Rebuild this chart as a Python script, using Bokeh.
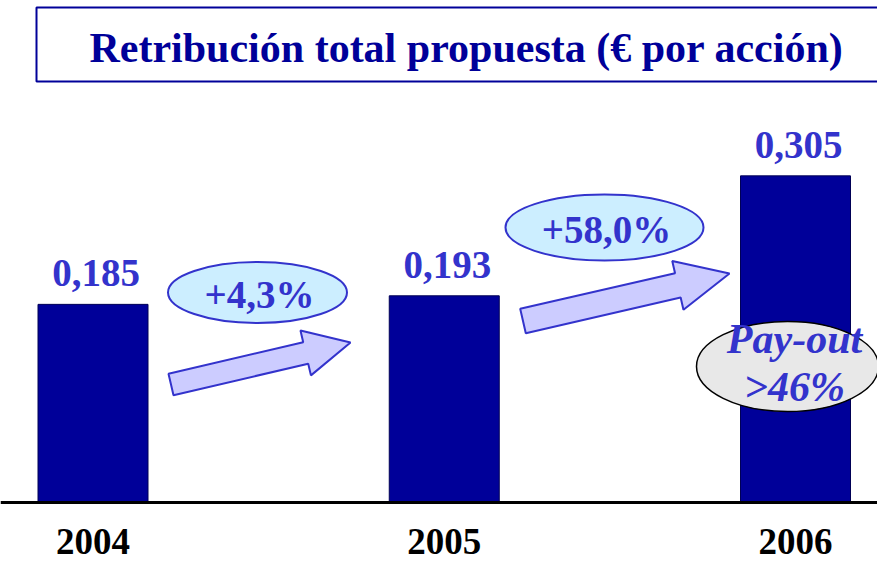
import math
from bokeh.plotting import figure
from bokeh.models import Range1d
from bokeh.core.properties import value
from bokeh.embed import file_html
from bokeh.resources import INLINE

# ---- data ----
years = [2004, 2005, 2006]
year_labels = ["2004", "2005", "2006"]
values = [0.185, 0.193, 0.305]
value_labels = ["0,185", "0,193", "0,305"]
change_labels = ["+4,3%", "+58,0%"]
payout_lines = ["Pay-out", ">46%"]
title_text = "Retribución total propuesta (€ por acción)"

# ---- layout (page pixel -> data) ----
W, H = 877, 561
OFF = 0
PX_PER_YEAR = 351.25
PX_PER_UNIT = 1071.0
X0 = 2004 - (92.5 - OFF) / PX_PER_YEAR
X1 = X0 + W / PX_PER_YEAR
Y1 = (502 - OFF) / PX_PER_UNIT
Y0 = Y1 - H / PX_PER_UNIT


def X(px):
    return X0 + (px - OFF) / PX_PER_YEAR


def Y(py):
    return (502 - py) / PX_PER_UNIT


SERIF = value("Liberation Serif")
NAVY = "#000099"
LBL = "#3333cc"

p = figure(width=W, height=H, output_backend="svg", toolbar_location=None,
           x_range=Range1d(X0, X1), y_range=Range1d(Y0, Y1),
           x_axis_location=None, y_axis_location=None, min_border=0)
p.outline_line_color = None
p.xgrid.visible = False
p.ygrid.visible = False
p.background_fill_color = "white"

# title box
p.quad(left=[X(36)], right=[X(900)], top=[Y(7)], bottom=[Y(81)],
       fill_color=None, line_color=NAVY, line_width=2)
p.text(x=[X(466)], y=[Y(47)], text=[title_text], text_font=SERIF,
       text_font_style="bold", text_font_size="42px", text_color=NAVY,
       text_align="center", text_baseline="middle")

# bars
p.vbar(x=years, top=values, bottom=0, width=110 / PX_PER_YEAR,
       fill_color=NAVY, line_color="#000055", line_width=1)

# baseline axis
p.line(x=[X0, X1], y=[0, 0], line_color="black", line_width=3)

# value labels
p.text(x=years, y=values, text=value_labels, text_font=SERIF,
       text_font_style="bold", text_font_size="39px", text_color=LBL,
       text_align="center", text_baseline="middle", x_offset=3, y_offset=-31)

# year labels
p.text(x=years, y=[0, 0, 0], text=year_labels, text_font=SERIF,
       text_font_style="bold", text_font_size="37px", text_color="black",
       text_align="center", text_baseline="middle", y_offset=39)


def arrow(tail, tip, sw, hw, hl):
    tx, ty = tail
    px_, py_ = tip
    dx, dy = px_ - tx, py_ - ty
    L = math.hypot(dx, dy)
    ux, uy = dx / L, dy / L
    nx, ny = -uy, ux
    bx, by = px_ - ux * hl, py_ - uy * hl
    pts = [(tx + nx * sw, ty + ny * sw), (bx + nx * sw, by + ny * sw),
           (bx + nx * hw, by + ny * hw), (px_, py_),
           (bx - nx * hw, by - ny * hw), (bx - nx * sw, by - ny * sw),
           (tx - nx * sw, ty - ny * sw)]
    return [X(a) for a, b in pts], [Y(b) for a, b in pts]


for tail, tip, sw, hw, hl in [((170.5, 384), (350, 342), 11, 23, 46),
                              ((522.5, 320.5), (729, 273), 12.5, 25, 53)]:
    xs, ys = arrow(tail, tip, sw, hw, hl)
    p.patch(xs, ys, fill_color="#ccccff", line_color=LBL, line_width=2)

# change ellipses
ell_centers = [(257, 292), (604, 227)]
ell_sizes = [(179, 61), (198, 66)]
for (cx, cy), (w, h), lab in zip(ell_centers, ell_sizes, change_labels):
    p.ellipse(x=[X(cx)], y=[Y(cy)], width=w, height=h, width_units="screen",
              height_units="screen", fill_color="#cceeff", line_color=LBL,
              line_width=2)
    p.text(x=[X(cx + 2)], y=[Y(cy + 2)], text=[lab], text_font=SERIF,
           text_font_style="bold", text_font_size="39px", text_color=LBL,
           text_align="center", text_baseline="middle")

# pay-out ellipse
p.ellipse(x=[X(787)], y=[Y(366)], width=182, height=90, width_units="screen",
          height_units="screen", fill_color="#e8e8e8", line_color="black",
          line_width=1.5)
p.text(x=[X(794), X(794)], y=[Y(338), Y(386)], text=payout_lines,
       text_font=SERIF, text_font_style="bold italic", text_font_size="42px",
       text_color=LBL, text_align="center", text_baseline="middle")

open("out.html", "w").write(file_html(p, INLINE))
